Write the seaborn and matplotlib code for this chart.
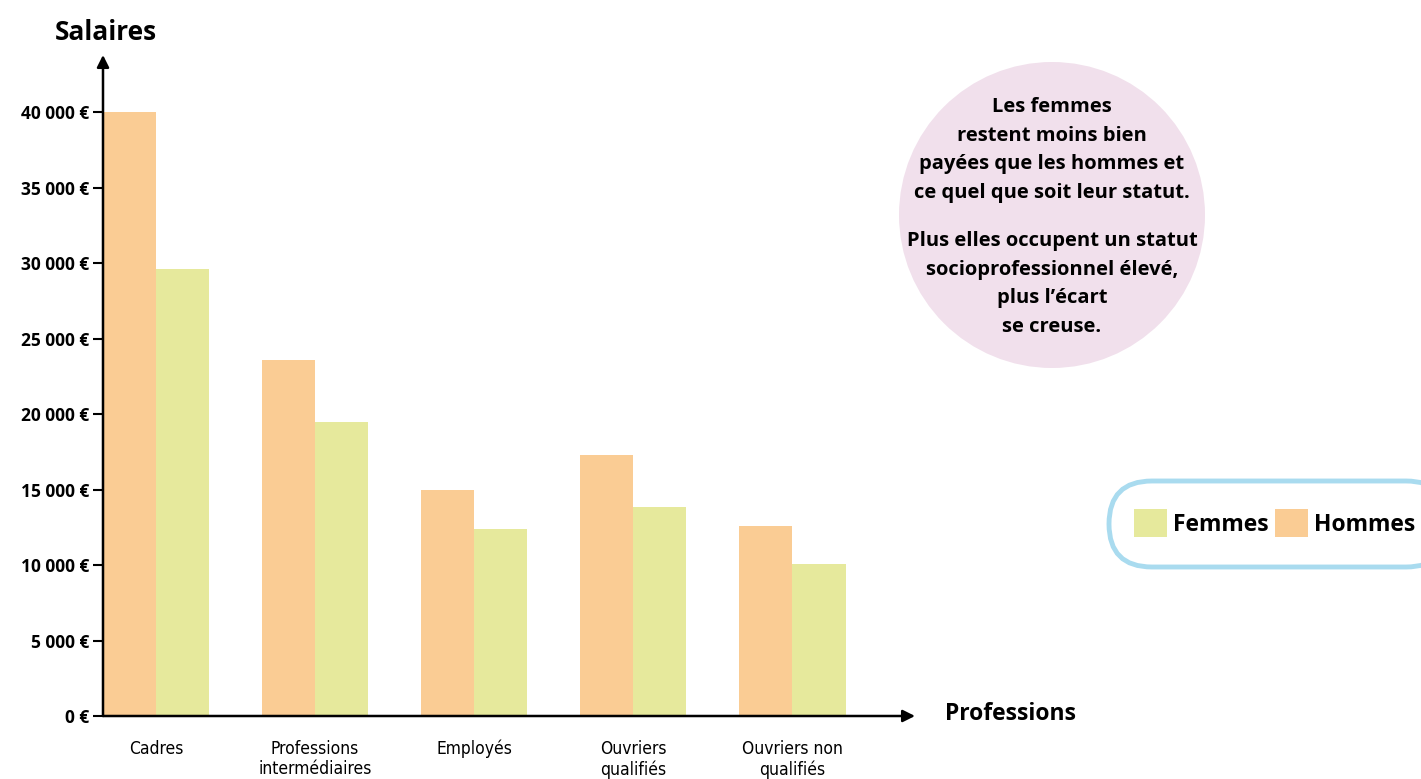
import matplotlib
matplotlib.use("Agg")
import matplotlib.pyplot as plt
from matplotlib.patches import Circle, FancyBboxPatch
import numpy as np
import pandas as pd
import seaborn as sns

# ------------------------------
# Data
# ------------------------------
professions = [
    "Cadres",
    "Professions\nintermédiaires",
    "Employés",
    "Ouvriers\nqualifiés",
    "Ouvriers non\nqualifiés",
]
hommes = [40000, 23600, 15000, 17300, 12600]
femmes = [29600, 19500, 12400, 13850, 10050]
y_ticks = [0, 5000, 10000, 15000, 20000, 25000, 30000, 35000, 40000]
y_tick_labels = [f"{v:,}".replace(",", " ") + " €" if v else "0 €" for v in y_ticks]

bubble_text = (
    "Les femmes\nrestent moins bien\npayées que les hommes et\nce quel que soit leur statut."
)
bubble_text2 = (
    "Plus elles occupent un statut\nsocioprofessionnel élevé,\nplus l’écart\nse creuse."
)

df = pd.DataFrame(
    {
        "profession": professions * 2,
        "sexe": ["Hommes"] * len(professions) + ["Femmes"] * len(professions),
        "salaire": hommes + femmes,
    }
)

orange = "#facc94"
green = "#e6e99c"

sns.set_theme(style="white")
plt.rcParams["font.family"] = ["Open Sans", "DejaVu Sans"]
plt.rcParams["text.color"] = "black"
plt.rcParams["xtick.color"] = "black"
plt.rcParams["ytick.color"] = "black"

fig = plt.figure(figsize=(14.21, 7.79), dpi=100)
ax = fig.add_axes([103 / 1421, 63 / 779, (915 - 103) / 1421, (716 - 55) / 779])

sns.barplot(
    data=df,
    x="profession",
    y="salaire",
    hue="sexe",
    hue_order=["Hommes", "Femmes"],
    palette={"Hommes": orange, "Femmes": green},
    width=0.667,
    gap=0,
    saturation=1,
    linewidth=0,
    ax=ax,
    legend=True,
)

ax.set_xlim(-0.333, 4.77)
ax.set_ylim(0, 43800)
for s in ax.spines.values():
    s.set_visible(False)

# axes with arrows
ax.annotate("", xy=(0, 1.0), xytext=(0, 0), xycoords="axes fraction",
            arrowprops=dict(arrowstyle="-|>", color="black", lw=1.8,
                            mutation_scale=18, shrinkA=0, shrinkB=0))
ax.annotate("", xy=(1.0, 0), xytext=(0, 0), xycoords="axes fraction",
            arrowprops=dict(arrowstyle="-|>", color="black", lw=1.8,
                            mutation_scale=18, shrinkA=0, shrinkB=0))

ax.set_yticks(y_ticks)
ax.set_yticklabels(y_tick_labels, fontsize=12.5, fontweight="bold")
ax.tick_params(axis="y", left=True, length=7, width=1.5, color="black", pad=3)
ax.tick_params(axis="x", bottom=False, pad=11)
ax.set_xticks(range(len(professions)))
ax.set_xticklabels(professions, fontsize=12.5,
                   family=["Liberation Sans Narrow", "DejaVu Sans"],
                   fontstretch="condensed", linespacing=1.2, va="top")
ax.set_xlabel("")
ax.set_ylabel("")

fig.text(55 / 1421, 1 - 32 / 779, "Salaires", fontsize=19, fontweight="bold",
         ha="left", va="center")
fig.text(945 / 1421, 1 - 714 / 779, "Professions", fontsize=16.5, fontweight="bold",
         ha="left", va="center")

# pink bubble
fig.patches.append(Circle((10.52, 7.79 - 2.15), 1.53, transform=fig.dpi_scale_trans,
                          facecolor="#f1e0ec", edgecolor="none", zorder=0))
fig.text(1052 / 1421, 1 - 150 / 779, bubble_text, ha="center", va="center",
         fontsize=14.5, fontweight="bold", linespacing=1.58)
fig.text(1052 / 1421, 1 - 284 / 779, bubble_text2, ha="center", va="center",
         fontsize=14.5, fontweight="bold", linespacing=1.58)

# legend in rounded box
handles, labels = ax.get_legend_handles_labels()
ax.get_legend().remove()
order = [labels.index("Femmes"), labels.index("Hommes")]
fig.patches.append(FancyBboxPatch((11.09, 7.79 - 5.67), 3.4, 0.86,
                                  boxstyle="round,pad=0,rounding_size=0.43",
                                  transform=fig.dpi_scale_trans, facecolor="white",
                                  edgecolor="#a9dbef", linewidth=3.5))
fig.legend([handles[i] for i in order], [labels[i] for i in order],
           loc="center left", bbox_to_anchor=(1113 / 1421, 1 - 523 / 779),
           ncol=2, frameon=False, handlelength=1.45, handleheight=1.45,
           handletextpad=0.25, columnspacing=0.3, prop={"weight": "bold", "size": 16.5})

fig.savefig("out.png", dpi=100)
